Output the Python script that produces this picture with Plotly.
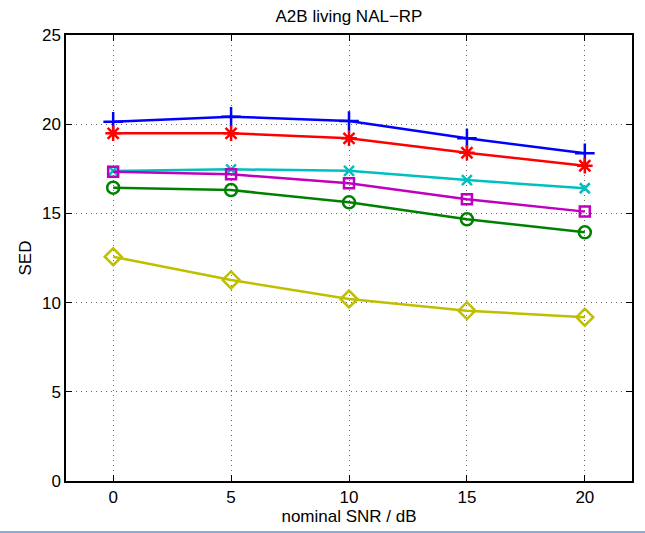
import plotly.graph_objects as go

snr = [0, 5, 10, 15, 20]
blue_plus = [20.14, 20.42, 20.18, 19.21, 18.37]
red_star = [19.49, 19.49, 19.21, 18.40, 17.67]
cyan_x = [17.38, 17.47, 17.39, 16.87, 16.41]
magenta_sq = [17.34, 17.19, 16.69, 15.79, 15.10]
green_o = [16.44, 16.31, 15.62, 14.67, 13.94]
yellow_d = [12.57, 11.27, 10.20, 9.55, 9.18]

x_ticks = [0, 5, 10, 15, 20]
y_ticks = [0, 5, 10, 15, 20, 25]

series = [
    (blue_plus, "#0000FF", "cross-thin-open", 14),
    (red_star, "#FF0000", "asterisk-open", 13),
    (cyan_x, "#00BFBF", "x-thin-open", 10),
    (magenta_sq, "#BF00BF", "square-open", 10),
    (green_o, "#008000", "circle-open", 12),
    (yellow_d, "#BFBF00", "diamond-open", 13),
]

fig = go.Figure()
for vals, col, sym, sz in series:
    fig.add_trace(go.Scatter(
        x=snr, y=vals, mode="lines+markers",
        line=dict(color=col, width=2.5),
        marker=dict(symbol=sym, size=sz, color=col, line=dict(color=col, width=2.5)),
        showlegend=False,
    ))

font = dict(family="Liberation Sans, Arial, sans-serif", size=17, color="black")

axis_common = dict(
    showline=True, linecolor="black", linewidth=1.5, mirror="allticks",
    ticks="inside", ticklen=6, tickcolor="black", tickwidth=1,
    showgrid=True, gridcolor="#666666", griddash="1px,4px", gridwidth=1,
    zeroline=False, tickfont=font,
)

fig.update_layout(
    width=645, height=533,
    margin=dict(l=66, r=13, t=35, b=52),
    paper_bgcolor="white", plot_bgcolor="white",
    font=font,
    title=dict(text="A2B living NAL\u2212RP", x=0.5, xref="paper", xanchor="center",
               y=1 - 16 / 533, yref="container", yanchor="middle", font=font),
    xaxis=dict(range=[-2, 22], tickvals=x_ticks, ticktext=[str(t) for t in x_ticks],
               title=dict(text="nominal SNR / dB", font=font, standoff=1), **axis_common),
    yaxis=dict(range=[0, 25], tickvals=y_ticks, ticktext=[str(t) for t in y_ticks],
               title=dict(text="SED", font=font, standoff=6), **axis_common),
    shapes=[dict(type="line", xref="paper", yref="paper",
                 x0=-66 / 566, x1=(645 - 66) / 566,
                 y0=(481 - 532) / 446, y1=(481 - 532) / 446,
                 line=dict(color="#6a8ccc", width=1.5))],
)

fig.write_html("out.html",
               config={"displayModeBar": False},
               post_script="document.body.style.margin='0';document.body.style.overflow='hidden';")
